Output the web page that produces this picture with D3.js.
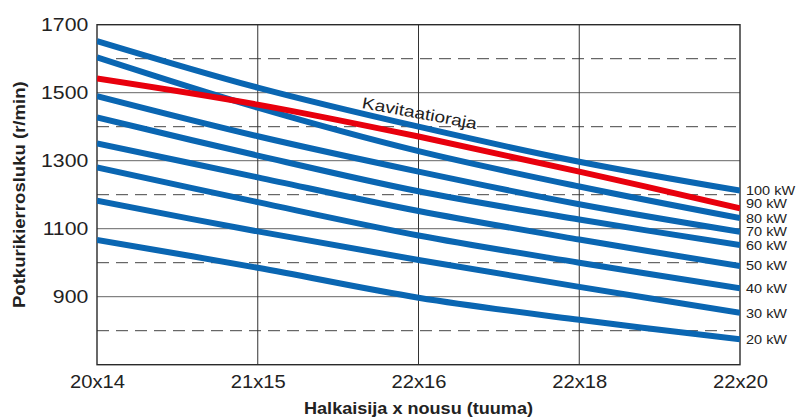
<!DOCTYPE html>
<html>
<head>
<meta charset="utf-8">
<script src="https://cdn.jsdelivr.net/npm/d3@7"></script>
<style>
  html, body { margin: 0; padding: 0; background: #fff; }
  svg { display: block; font-family: "Liberation Sans", Arial, Helvetica, sans-serif; }
</style>
</head>
<body>
<svg id="chart" width="801" height="417"></svg>
<script>
// ---- data ----
const categories = ["20x14", "21x15", "22x16", "22x18", "22x20"];
const yTicks = [900, 1100, 1300, 1500, 1700];
const dashedTicks = [800, 1000, 1200, 1400, 1600];
const solidTicks = [900, 1100, 1300, 1500];

const kw100 = [1652, 1515, 1400, 1297, 1212];
const kw80  = [1604, 1456, 1328, 1224, 1131];
const kw70  = [1490, 1372, 1268, 1172, 1091];
const kw60  = [1427, 1315, 1210, 1127, 1052];
const kw50  = [1351, 1251, 1152, 1068, 990];
const kw40  = [1280, 1178, 1080, 1000, 925];
const kw30  = [1182, 1092, 1008, 929, 853];
const kw20  = [1067, 985, 897, 832, 775];
const cavitation = [1542, 1465, 1371, 1268, 1160];

const blueSeries = [kw100, kw80, kw70, kw60, kw50, kw40, kw30, kw20];
const powerLabels = ["100 kW", "90 kW", "80 kW", "70 kW", "60 kW", "50 kW", "40 kW", "30 kW", "20 kW"];
const powerLabelValues = [1212, 1174, 1131, 1091, 1050, 990, 923, 851, 773];
const cavitationLabel = "Kavitaatioraja";
const xTitle = "Halkaisija x nousu (tuuma)";
const yTitle = "Potkurikierrosluku (r/min)";

(function () {
// ---- layout ----
const svg = d3.select("#chart");
const pL = 97, pR = 740, pT = 24.7, pB = 364.7;
const stretch = 1.18;

const x = d3.scalePoint().domain(categories).range([pL, pR]);
const y = d3.scaleLinear().domain([700, 1700]).range([pB, pT]);

// dashed gridlines
svg.append("g").selectAll("line").data(dashedTicks).join("line")
  .attr("x1", pL).attr("x2", pR)
  .attr("y1", d => y(d)).attr("y2", d => y(d))
  .attr("stroke", "#444").attr("stroke-width", 1)
  .attr("stroke-dasharray", "12,7");

// solid horizontal gridlines
svg.append("g").selectAll("line").data(solidTicks).join("line")
  .attr("x1", pL).attr("x2", pR)
  .attr("y1", d => y(d)).attr("y2", d => y(d))
  .attr("stroke", "#666").attr("stroke-width", 1);

// vertical gridlines
svg.append("g").selectAll("line").data(categories.slice(1, -1)).join("line")
  .attr("x1", d => x(d)).attr("x2", d => x(d))
  .attr("y1", pT).attr("y2", pB)
  .attr("stroke", "#333").attr("stroke-width", 1);

// frame
svg.append("rect")
  .attr("x", pL).attr("y", pT)
  .attr("width", pR - pL).attr("height", pB - pT)
  .attr("fill", "none").attr("stroke", "#2a2a2a").attr("stroke-width", 1.4);

// line generator
const line = d3.line()
  .x((d, i) => x(categories[i]))
  .y(d => y(d))
  .curve(d3.curveCatmullRom.alpha(0.5));

svg.append("clipPath").attr("id", "plotclip")
  .append("rect").attr("x", pL).attr("y", pT)
  .attr("width", pR - pL).attr("height", pB - pT);

const gLines = svg.append("g").attr("clip-path", "url(#plotclip)");
gLines.selectAll("path.blue").data(blueSeries).join("path")
  .attr("class", "blue")
  .attr("d", d => line(d))
  .attr("fill", "none").attr("stroke", "#0a66b2").attr("stroke-width", 6);
gLines.append("path")
  .attr("d", line(cavitation))
  .attr("fill", "none").attr("stroke", "#e8000d").attr("stroke-width", 6);

// axes
const yAxis = svg.append("g").attr("transform", `translate(${pL},0)`)
  .call(d3.axisLeft(y).tickValues(yTicks).tickSize(0).tickPadding(7.4).tickFormat(d3.format("d")));
yAxis.select(".domain").remove();
yAxis.selectAll("text")
  .attr("font-size", 18).attr("fill", "#222")
  .attr("font-family", "'Liberation Sans', Arial, sans-serif")
  .attr("transform", `scale(${stretch},1)`);

const xAxis = svg.append("g").attr("transform", `translate(0,${pB})`)
  .call(d3.axisBottom(x).tickSize(0).tickPadding(11));
xAxis.select(".domain").remove();
xAxis.selectAll(".tick text")
  .attr("font-size", 18).attr("fill", "#222")
  .attr("font-family", "'Liberation Sans', Arial, sans-serif")
  .attr("transform", `scale(1.12,1)`);

// power labels at right
svg.append("g").selectAll("text").data(powerLabels).join("text")
  .attr("transform", (d, i) => `translate(746,${y(powerLabelValues[i])}) scale(1.16,1)`)
  .attr("dy", "0.35em")
  .attr("font-size", 12.5).attr("fill", "#222")
  .text(d => d);

// cavitation label
svg.append("text")
  .attr("transform", `translate(${x(categories[2])},${y(1424)}) rotate(10.5) scale(1.2,1)`)
  .attr("text-anchor", "middle")
  .attr("font-size", 16).attr("fill", "#222")
  .text(cavitationLabel);

// titles
svg.append("text")
  .attr("transform", `translate(${(pL + pR) / 2},414) scale(1.13,1)`)
  .attr("text-anchor", "middle")
  .attr("font-size", 16).attr("font-weight", "bold").attr("fill", "#222")
  .text(xTitle);

svg.append("text")
  .attr("transform", `translate(25,${(pT + pB) / 2}) rotate(-90) scale(1.16,1)`)
  .attr("text-anchor", "middle")
  .attr("font-size", 16).attr("font-weight", "bold").attr("fill", "#222")
  .text(yTitle);
})();
</script>
</body>
</html>
